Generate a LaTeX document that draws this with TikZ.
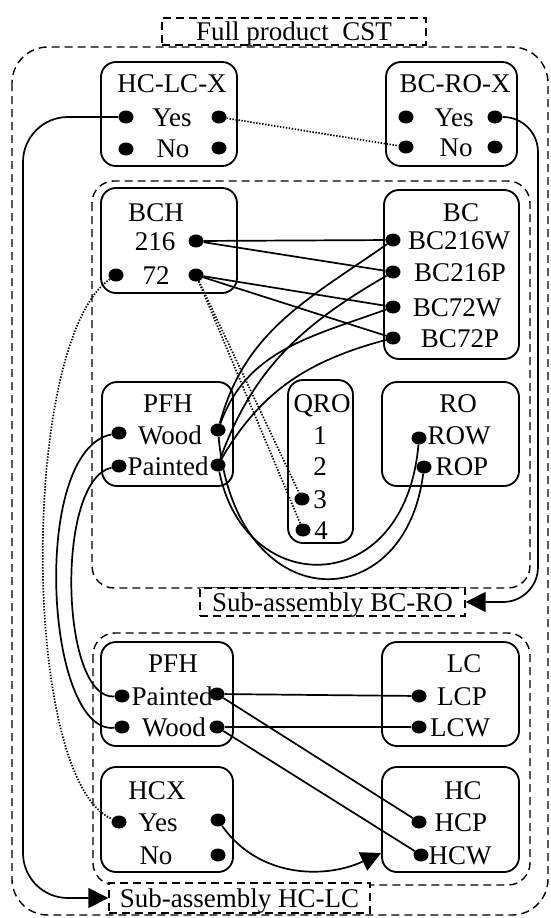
\documentclass[tikz,border=0pt]{standalone}
\usepackage{fontspec}
\setmainfont{Liberation Serif}
\usetikzlibrary{arrows.meta,shapes.geometric}
\tikzset{
        x=1pt, y=1pt,
        box/.style={draw=black, line width=0.65mm, rounded corners=15pt, inner sep=0pt},
        boxsize/.style 2 args={minimum width=#1pt, minimum height=#2pt},
        group/.style={draw=black, line width=0.5mm, dash pattern=on 8pt off 5pt, rounded corners=22pt},
        grouplabel/.style={draw=black, line width=0.5mm, dash pattern=on 8pt off 5pt, fill=white, inner sep=0pt, text height=18pt, text depth=0pt},
        txt/.style={inner sep=0pt, text height=18pt, text depth=0pt},
        dot/.style={ellipse, fill=black, inner sep=0pt, minimum width=15pt, minimum height=13pt},
        link/.style={line width=0.6mm},
        dotlink/.style={line width=0.6mm, dash pattern=on 1.4pt off 1.6pt},
        arrow/.style={link, -{Triangle[length=20pt,width=20pt]}}
          }
\begin{document}
\begin{tikzpicture}[font=\fontsize{27}{30}\selectfont]
        \useasboundingbox (0,0) rectangle (550,-918);
        \draw[group, rounded corners=36pt] (12,-47) rectangle (548,-915);
        \draw[group] (92,-181) rectangle (530,-588);
        \draw[group] (93,-633) rectangle (530,-885);
        \node[grouplabel, boxsize={264}{27}] (full) at (294,-31.5) {Full product~~CST};
        \node[grouplabel, boxsize={265}{28}] (bcro) at (332.5,-602) {Sub-assembly BC-RO};
        \node[grouplabel, boxsize={261}{30}] (hclc) at (239.5,-898) {Sub-assembly HC-LC};

        \node[box, boxsize={136}{104}] (hclcx) at (169,-114) {};
        \node[txt] at (172,-83) {HC-LC-X};
        \node[txt] at (172,-117) {Yes};
        \node[txt] at (173,-148) {No};
        \node[dot] (hclcx-yes-l) at (126,-117) {};
        \node[dot] (hclcx-yes-r) at (219,-117) {};
        \node[dot] (hclcx-no-l) at (126,-149) {};
        \node[dot] (hclcx-no-r) at (219,-148) {};

        \node[box, boxsize={131}{104}] (bcrox) at (451.5,-114) {};
        \node[txt] at (455,-83) {BC-RO-X};
        \node[txt] at (454,-117) {Yes};
        \node[txt] at (456,-147) {No};
        \node[dot] (bcrox-yes-l) at (406,-117) {};
        \node[dot] (bcrox-yes-r) at (495,-117) {};
        \node[dot] (bcrox-no-l) at (406,-147) {};
        \node[dot] (bcrox-no-r) at (495,-147) {};

        \node[box, boxsize={136}{105}] (bch) at (169,-240.5) {};
        \node[txt] at (156,-212) {BCH};
        \node[txt] at (155,-241) {216};
        \node[txt] at (156,-275) {72};
        \node[dot] (bch-216-r) at (196,-241) {};
        \node[dot] (bch-72-l) at (116,-275) {};
        \node[dot] (bch-72-r) at (196,-275) {};

        \node[box, boxsize={135}{169}] (bc) at (451.5,-274.5) {};
        \node[txt] at (461,-212) {BC};
        \node[txt] at (459,-240) {BC216W};
        \node[txt] at (460,-272) {BC216P};
        \node[txt] at (457,-307) {BC72W};
        \node[txt] at (460,-338) {BC72P};
        \node[dot] (bc-216w) at (393,-240) {};
        \node[dot] (bc-216p) at (393,-272) {};
        \node[dot] (bc-72w) at (393,-307) {};
        \node[dot] (bc-72p) at (393,-338) {};

        \node[box, boxsize={131}{104}] (pfh1) at (167.5,-434) {};
        \node[txt] at (168,-403) {PFH};
        \node[txt] at (170,-435) {Wood};
        \node[txt] at (168,-466) {Painted};
        \node[dot] (pfh1-wood-l) at (119,-433) {};
        \node[dot] (pfh1-wood-r) at (218,-430) {};
        \node[dot] (pfh1-painted-l) at (119,-466) {};
        \node[dot] (pfh1-painted-r) at (218,-465) {};

        \node[box, boxsize={65}{163}] (qro) at (320.5,-461.5) {};
        \node[txt] at (322,-403) {QRO};
        \node[txt] at (320,-435) {1};
        \node[txt] at (320,-466) {2};
        \node[txt] at (320,-499) {3};
        \node[txt] at (321,-530) {4};
        \node[dot] (qro-3) at (302,-499) {};
        \node[dot] (qro-4) at (303,-530) {};

        \node[box, boxsize={137}{104}] (ro) at (450.5,-434) {};
        \node[txt] at (458,-403) {RO};
        \node[txt] at (459,-435) {ROW};
        \node[txt] at (462,-466) {ROP};
        \node[dot] (ro-w) at (419,-438) {};
        \node[dot] (ro-p) at (424,-467) {};

        \node[box, boxsize={132}{104}] (pfh2) at (167,-694) {};
        \node[txt] at (173,-663) {PFH};
        \node[txt] at (172,-696) {Painted};
        \node[txt] at (174,-727) {Wood};
        \node[dot] (pfh2-painted-l) at (122,-696) {};
        \node[dot] (pfh2-painted-r) at (217,-694) {};
        \node[dot] (pfh2-wood-l) at (122,-727) {};
        \node[dot] (pfh2-wood-r) at (217,-727) {};

        \node[box, boxsize={137}{104}] (lc) at (450.5,-694) {};
        \node[txt] at (464,-663) {LC};
        \node[txt] at (462,-696) {LCP};
        \node[txt] at (460,-727) {LCW};
        \node[dot] (lc-p) at (419,-696) {};
        \node[dot] (lc-w) at (419,-727) {};

        \node[box, boxsize={132}{105}] (hcx) at (167,-819.5) {};
        \node[txt] at (157,-790) {HCX};
        \node[txt] at (158,-822) {Yes};
        \node[txt] at (156,-855) {No};
        \node[dot] (hcx-yes-l) at (119,-822) {};
        \node[dot] (hcx-yes-r) at (218,-820) {};
        \node[dot] (hcx-no-r) at (218,-855) {};

        \node[box, boxsize={137}{105}] (hc) at (450.5,-819.5) {};
        \node[txt] at (463,-790) {HC};
        \node[txt] at (461,-822) {HCP};
        \node[txt] at (460,-855) {HCW};
        \node[dot] (hc-p) at (419,-822) {};
        \node[dot] (hc-w) at (421,-855) {};
        \coordinate (hc-in) at ([yshift=2pt]hc.west |- hc-w);

        \draw[arrow, rounded corners=45pt] (hclcx-yes-l) -| (23,-898) -- (hclc.west);
        \draw[arrow, rounded corners=35pt] (bcrox-yes-r) -| (538,-602) -- (bcro.east);
        \draw[dotlink] (hclcx-yes-r) -- (bcrox-no-l);

        \draw[link] (bch-216-r) -- (bc-216w);
        \draw[link] (bch-216-r) -- (bc-216p);
        \draw[link] (bch-72-r) -- (bc-72w);
        \draw[link] (bch-72-r) -- (bc-72p);
        \draw[dotlink] (bch-72-r) -- (qro-3);
        \draw[dotlink] (bch-72-r) -- (qro-4);
        \draw[dotlink] (bch-72-l) .. controls (20,-340) and (20,-780) .. (hcx-yes-l);

        \draw[link] (bc-216w) to[out=215,in=75] (pfh1-wood-r);
        \draw[link] (bc-72w) to[out=200,in=70] (pfh1-wood-r);
        \draw[link] (bc-216p) to[out=210,in=70] (pfh1-painted-r);
        \draw[link] (bc-72p) to[out=195,in=60] (pfh1-painted-r);
        \draw[link] (pfh1-wood-r) .. controls (235,-620) and (405,-620) .. (ro-p);
        \draw[link] (pfh1-painted-r) .. controls (245,-600) and (405,-600) .. (ro-w);

        \draw[link] (pfh1-wood-l) .. controls (30,-450) and (45,-735) .. (pfh2-wood-l);
        \draw[link] (pfh1-painted-l) .. controls (55,-480) and (60,-700) .. (pfh2-painted-l);

        \draw[link] (pfh2-painted-r) -- (lc-p);
        \draw[link] (pfh2-wood-r) -- (lc-w);
        \draw[link] (pfh2-painted-r) -- (hc-p);
        \draw[link] (pfh2-wood-r) -- (hc-w);
        \draw[arrow] (hcx-yes-r) to[out=-55,in=205] (hc-in);
      \end{tikzpicture}
\end{document}
